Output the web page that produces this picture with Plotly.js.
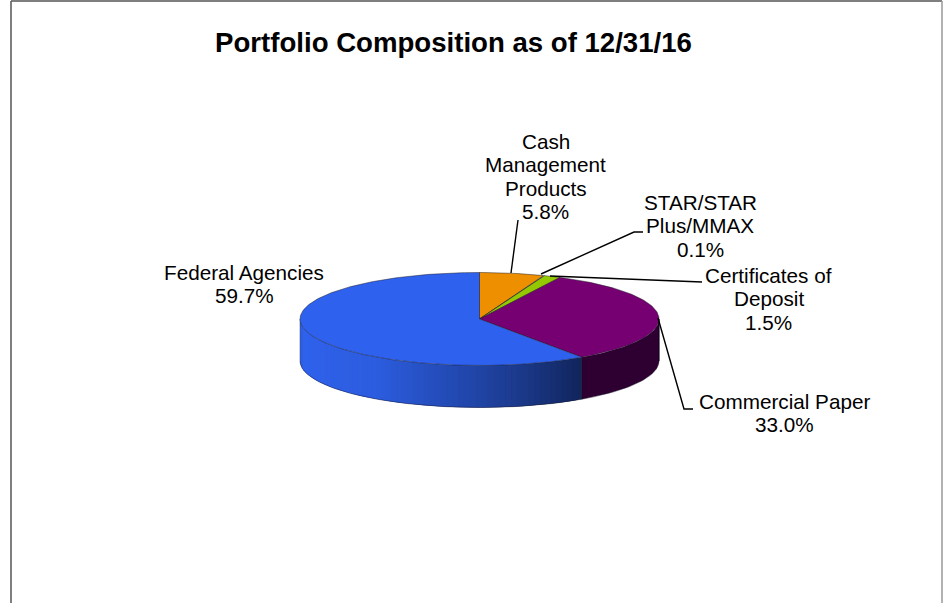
<!DOCTYPE html>
<html><head><meta charset="utf-8">
<script src="https://cdn.plot.ly/plotly-3.0.1.min.js"></script>
<style>html,body{margin:0;padding:0;background:#fff}#c{width:947px;height:603px}</style>
</head><body><div id="c"></div>
<script>
const title = "Portfolio Composition as of 12/31/16";
const categories = [["Cash", "Management", "Products"], ["STAR/STAR", "Plus/MMAX"], ["Certificates of", "Deposit"], ["Commercial Paper"], ["Federal Agencies"]];
const values = [5.8, 0.1, 1.5, 33.0, 59.7];
const topColors = ["#ee8f00", "#4f7f10", "#94c800", "#760072", "#2e62ee"];
const labelX = [545.5, 700, 768.5, 784, 244];
const labelY = [141, 202, 275, 401, 272];
const lineGap = 23.5;
const leaderX = [[511, 518], [541, 634, 643], [550, 692, 702], [658, 684, 693]];
const leaderY = [[273, 220], [274, 232, 232], [276, 282, 282], [318, 409, 409]];
const cx = 479.5, cy = 319, rx = 179.5, ry = 46.5, depth = 42;

// wall shading: [fraction along the visible wall, r, g, b]
const wallStops = [
  [[0, 150, 90, 0], [1, 150, 90, 0]],
  [[0, 40, 60, 10], [1, 40, 60, 10]],
  [[0, 70, 100, 0], [1, 70, 100, 0]],
  [[0, 46, 0, 50], [1, 46, 0, 50]],
  [[0, 16, 36, 92], [0.15, 26, 55, 132], [0.3, 33, 70, 170], [0.55, 44, 92, 222], [0.9, 47, 98, 238], [1, 42, 88, 205]]
];

function pt(t, dy) { return [cx + rx * Math.sin(t), cy - ry * Math.cos(t) + (dy || 0)]; }
function shade(stops, f) {
  for (let i = 1; i < stops.length; i++) {
    if (f <= stops[i][0]) {
      const a = stops[i - 1], b = stops[i], k = (f - a[0]) / (b[0] - a[0] || 1);
      return "rgb(" + [1, 2, 3].map(j => Math.round(a[j] + (b[j] - a[j]) * k)).join(",") + ")";
    }
  }
  const l = stops[stops.length - 1];
  return "rgb(" + l[1] + "," + l[2] + "," + l[3] + ")";
}
const total = values.reduce((a, b) => a + b, 0);
const base = { type: "scatter", mode: "lines", hoverinfo: "skip", showlegend: false };
const traces = [], wallLines = [], tops = [];
let acc = 0;
values.forEach((v, i) => {
  const a0 = acc / total * 2 * Math.PI, a1 = (acc + v) / total * 2 * Math.PI;
  acc += v;
  const s = Math.max(a0, Math.PI / 2), e = Math.min(a1, 3 * Math.PI / 2);
  if (e > s) {
    const n = wallStops[i].length > 2 ? Math.ceil((e - s) * 30) : 1;
    for (let k = 0; k < n; k++) {
      // each strip runs on under the next one, so no seam shows between them
      const t0 = s + (e - s) * k / n, t1 = Math.min(e, s + (e - s) * (k + 2) / n);
      const q = Math.max(3, Math.ceil((t1 - t0) * 40));
      const x = [], y = [];
      for (let j = 0; j <= q; j++) { const p = pt(t0 + (t1 - t0) * j / q, 0); x.push(p[0]); y.push(p[1]); }
      for (let j = q; j >= 0; j--) { const p = pt(t0 + (t1 - t0) * j / q, depth); x.push(p[0]); y.push(p[1]); }
      traces.push({ ...base, x, y, fill: "toself", fillcolor: shade(wallStops[i], (k + 0.5) / n), line: { width: 0 } });
    }
    const lx = [], ly = [];
    for (let k = 0; k <= 80; k++) { const p = pt(s + (e - s) * k / 80, depth); lx.push(p[0]); ly.push(p[1]); }
    wallLines.push({ ...base, x: lx, y: ly, line: { color: "rgba(20,20,40,0.55)", width: 0.8 } });
    const p0 = pt(s, 0), p1 = pt(s, depth);
    wallLines.push({ ...base, x: [p0[0], p1[0]], y: [p0[1], p1[1]], line: { color: "rgba(10,10,30,0.75)", width: 1 } });
  }
  const x = [cx], y = [cy], n = Math.max(4, Math.ceil((a1 - a0) * 60));
  for (let k = 0; k <= n; k++) { const p = pt(a0 + (a1 - a0) * k / n, 0); x.push(p[0]); y.push(p[1]); }
  x.push(cx); y.push(cy);
  tops.push({ ...base, x, y, fill: "toself", fillcolor: topColors[i], line: { color: "rgba(25,25,35,0.6)", width: 0.8 } });
});
// outer edges of the wall
const eL = pt(3 * Math.PI / 2, 0), eR = pt(Math.PI / 2, 0);
wallLines.push({ ...base, x: [eL[0], eL[0]], y: [eL[1], eL[1] + depth], line: { color: "rgba(40,60,120,0.6)", width: 0.8 } });
wallLines.push({ ...base, x: [eR[0], eR[0]], y: [eR[1], eR[1] + depth], line: { color: "rgba(20,0,25,0.8)", width: 0.8 } });

const leaders = leaderX.map((x, i) => ({ ...base, x, y: leaderY[i], line: { color: "#000", width: 1.4 } }));
const annotations = [];
categories.forEach((lines, i) => {
  lines.concat([values[i].toFixed(1) + "%"]).forEach((text, j) => annotations.push({
    text, x: labelX[i], y: labelY[i] + j * lineGap, xref: "x", yref: "y", showarrow: false,
    xanchor: "center", yanchor: "middle",
    font: { family: "Liberation Sans, Arial, sans-serif", size: 20.7, color: "#000" }
  }));
});
const border = [[11, 603, 11, 1, "#555"], [11, 1, 942, 1, "#555"], [942, 1, 942, 603, "#999"]].map(b => ({
  type: "line", xref: "x", yref: "y", x0: b[0], y0: b[1], x1: b[2], y1: b[3],
  line: { color: b[4], width: 1.5 }
}));
Plotly.newPlot("c", traces.concat(wallLines, tops, leaders), {
  width: 947, height: 603, margin: { l: 0, r: 0, t: 0, b: 0 },
  paper_bgcolor: "#fff", plot_bgcolor: "#fff", showlegend: false,
  title: { text: "<b>" + title + "</b>", x: 453.5 / 947, xanchor: "center", y: 1 - 42 / 603, yanchor: "middle",
    font: { family: "Liberation Sans, Arial, sans-serif", size: 27.6, color: "#000" } },
  xaxis: { range: [0, 947], visible: false, fixedrange: true },
  yaxis: { range: [603, 0], visible: false, fixedrange: true },
  shapes: border, annotations
}, { displayModeBar: false, staticPlot: true });
</script></body></html>
